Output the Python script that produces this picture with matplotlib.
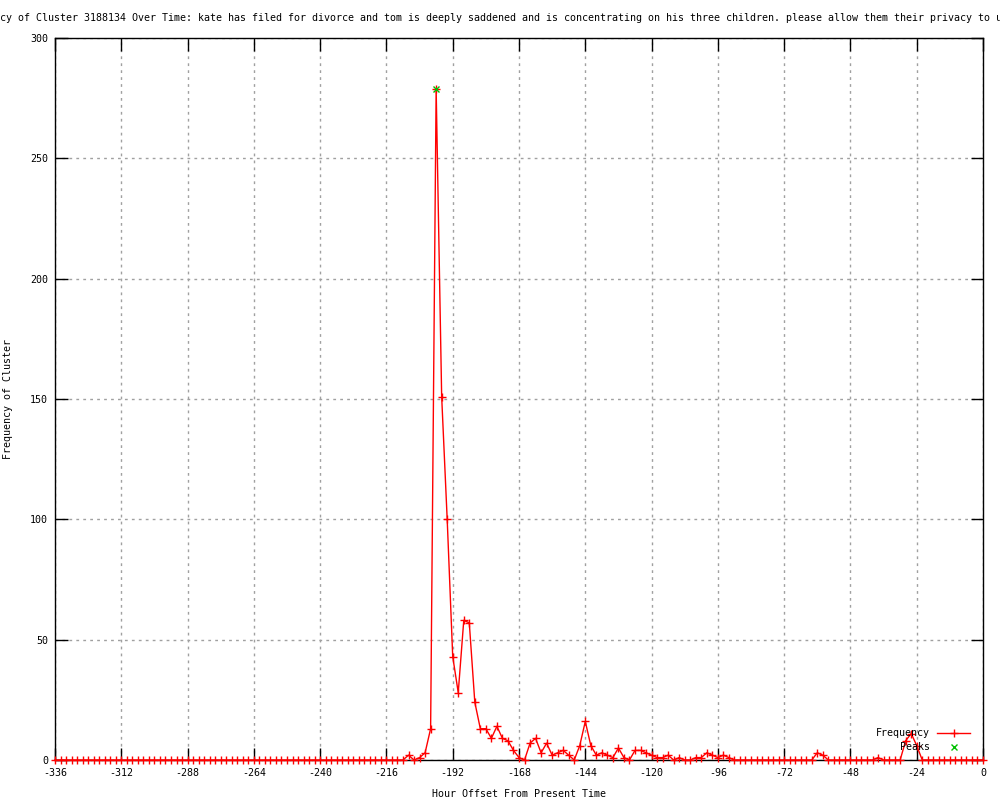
import matplotlib
matplotlib.use("Agg")
import matplotlib.pyplot as plt
from matplotlib.lines import Line2D

# ---------------- data ----------------
hours = list(range(-336, 1, 2))  # hour offsets (2-hour bins)
frequency = [
    0, 0, 0, 0, 0, 0, 0, 0, 0, 0, 0, 0,            # -336 .. -314
    0, 0, 0, 0, 0, 0, 0, 0, 0, 0, 0, 0,            # -312 .. -290
    0, 0, 0, 0, 0, 0, 0, 0, 0, 0, 0, 0,            # -288 .. -266
    0, 0, 0, 0, 0, 0, 0, 0, 0, 0, 0, 0,            # -264 .. -242
    0, 0, 0, 0, 0, 0, 0, 0, 0, 0, 0, 0,            # -240 .. -218
    0, 0, 0, 0, 2, 0, 1, 3, 13, 279, 151, 100,     # -216 .. -194
    43, 28, 58, 57, 24, 13, 13, 9, 14, 9, 8, 4,    # -192 .. -170
    1, 0, 7, 9, 3, 7, 2, 3, 4, 2, 0, 6,            # -168 .. -146
    16, 6, 2, 3, 2, 1, 5, 1, 0, 4, 4, 3,           # -144 .. -122
    2, 1, 1, 2, 0, 1, 0, 0, 1, 1, 3, 2,            # -120 .. -98
    1, 2, 1, 0, 0, 0, 0, 0, 0, 0, 0, 0,            # -96 .. -74
    0, 0, 0, 0, 0, 0, 3, 2, 0, 0, 0, 0,            # -72 .. -50
    0, 0, 0, 0, 0, 1, 0, 0, 0, 0, 8, 11,           # -48 .. -26
    6, 0, 0, 0, 0, 0, 0, 0, 0, 0, 0, 0,            # -24 .. -2
    0,                                             # 0
]
peak_hours = [-198]
peak_values = [279]

x_ticks = list(range(-336, 1, 24))
y_ticks = list(range(0, 301, 50))

title = ("Frequency of Cluster 3188134 Over Time: kate has filed for divorce and tom "
         "is deeply saddened and is concentrating on his three children. please allow "
         "them their privacy to u")

# ---------------- style ----------------
plt.rcParams['font.family'] = ['DejaVu Sans Mono']
plt.rcParams['font.size'] = 7.2
plt.rcParams['axes.unicode_minus'] = False

fig = plt.figure(figsize=(10, 8), dpi=100)
ax = fig.add_axes([55 / 1000, 40 / 800, 928 / 1000, 722 / 800])

red = '#ff0000'
green = '#00c000'

ax.plot(hours, frequency, color=red, lw=1, marker='+', markersize=6,
        markeredgewidth=1, clip_on=False, zorder=3)
ax.plot(peak_hours, peak_values, color=green, lw=0, marker='x', markersize=5,
        markeredgewidth=1, clip_on=False, zorder=4)

ax.set_xlim(-336, 0)
ax.set_ylim(0, 300)
ax.set_xticks(x_ticks)
ax.set_yticks(y_ticks)
ax.grid(True, color='#a0a0a0', linestyle=(0, (2, 3)), linewidth=1)
ax.set_axisbelow(True)
ax.tick_params(direction='in', length=9, width=1, color='black',
               top=True, right=True, labelsize=7.2)
ax.tick_params(axis='x', pad=6)
ax.tick_params(axis='y', pad=5)
for s in ax.spines.values():
    s.set_linewidth(1)
    s.set_color('black')

ax.set_xlabel('Hour Offset From Present Time', fontsize=7.2, labelpad=8)
ax.set_ylabel('Frequency of Cluster', fontsize=7.2)
ax.yaxis.set_label_coords((13 - 55) / 928, 0.5)

fig.text(-42 / 1000, 1 - 18 / 800, title, ha='left', va='center', fontsize=7.2)

handles = [
    Line2D([], [], color=red, lw=1, marker='+', markersize=6),
    Line2D([], [], color=green, lw=0, marker='x', markersize=5),
]
ax.legend(handles, ['Frequency', 'Peaks'], loc='lower right',
          bbox_to_anchor=(0.995, 0.0), frameon=False, markerfirst=False,
          handlelength=3.3, handletextpad=0.7, borderpad=0.3,
          labelspacing=0.35, fontsize=7.2)

fig.savefig('out.png', dpi=100)
